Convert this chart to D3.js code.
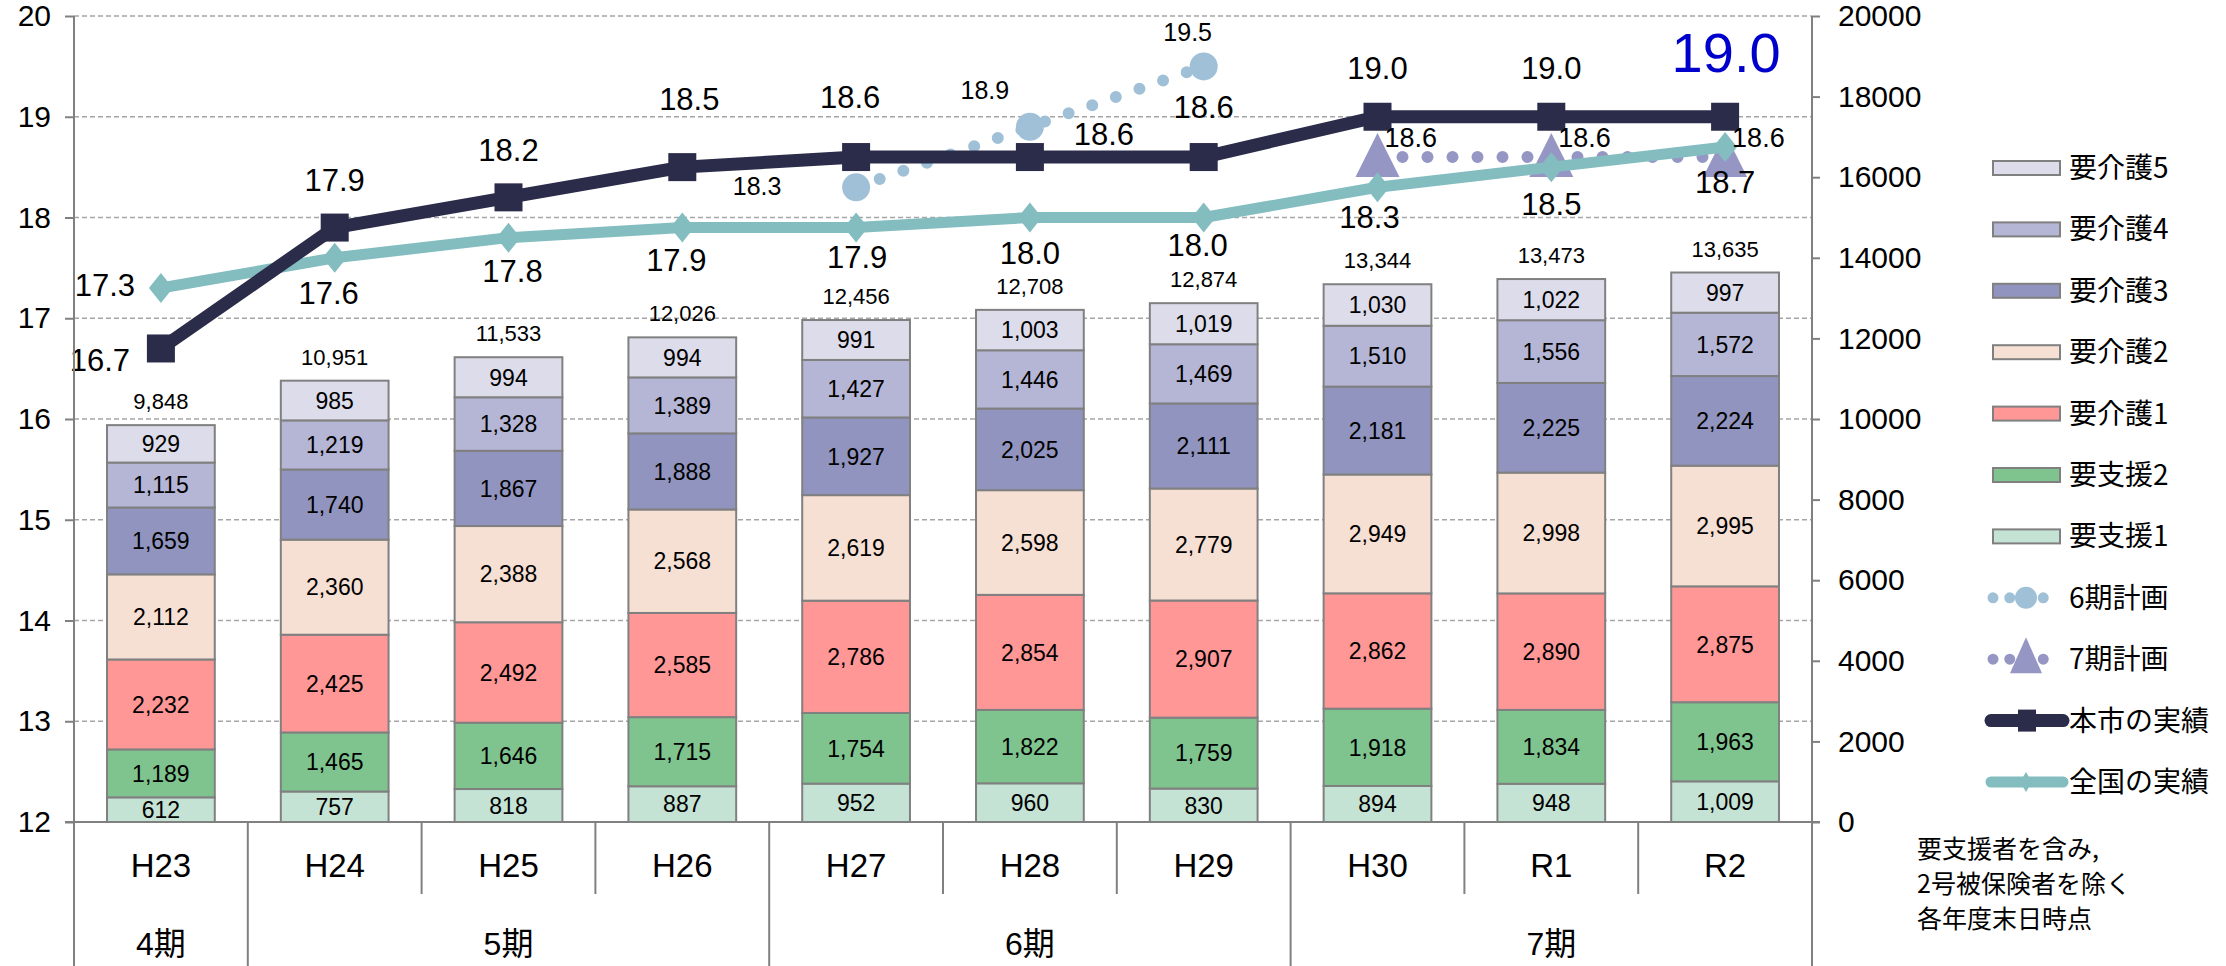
<!DOCTYPE html>
<html>
<head>
<meta charset="utf-8">
<script src="https://cdn.jsdelivr.net/npm/d3@7"></script>
<style>
  body { margin: 0; background: #fff; }
  text { font-family: "Liberation Sans", "Noto Sans CJK JP", sans-serif; fill: #000; }
  .jp { font-family: "Noto Sans CJK JP", sans-serif; }
</style>
</head>
<body>
<svg id="chart"></svg>
<script>
// データ
const years = ["H23", "H24", "H25", "H26", "H27", "H28", "H29", "H30", "R1", "R2"];
const periodNames = ["4期", "5期", "6期", "7期"];
const periodSpans = [1, 3, 3, 3];

const levelNames = ["要支援1", "要支援2", "要介護1", "要介護2", "要介護3", "要介護4", "要介護5"];
const shien1 = [612, 757, 818, 887, 952, 960, 830, 894, 948, 1009];
const shien2 = [1189, 1465, 1646, 1715, 1754, 1822, 1759, 1918, 1834, 1963];
const kaigo1 = [2232, 2425, 2492, 2585, 2786, 2854, 2907, 2862, 2890, 2875];
const kaigo2 = [2112, 2360, 2388, 2568, 2619, 2598, 2779, 2949, 2998, 2995];
const kaigo3 = [1659, 1740, 1867, 1888, 1927, 2025, 2111, 2181, 2225, 2224];
const kaigo4 = [1115, 1219, 1328, 1389, 1427, 1446, 1469, 1510, 1556, 1572];
const kaigo5 = [929, 985, 994, 994, 991, 1003, 1019, 1030, 1022, 997];
const levelValues = [shien1, shien2, kaigo1, kaigo2, kaigo3, kaigo4, kaigo5];

const cityRate = [16.7, 17.9, 18.2, 18.5, 18.6, 18.6, 18.6, 19.0, 19.0, 19.0];
const nationRate = [17.3, 17.6, 17.8, 17.9, 17.9, 18.0, 18.0, 18.3, 18.5, 18.7];
const plan6Years = ["H27", "H28", "H29"];
const plan6Rate = [18.3, 18.9, 19.5];
const plan7Years = ["H30", "R1", "R2"];
const plan7Rate = [18.6, 18.6, 18.6];

const leftTicks = [12, 13, 14, 15, 16, 17, 18, 19, 20];
const rightTicks = [0, 2000, 4000, 6000, 8000, 10000, 12000, 14000, 16000, 18000, 20000];
const lineNames = ["6期計画", "7期計画", "本市の実績", "全国の実績"];
const noteLines = ["要支援者を含み,", "2号被保険者を除く", "各年度末日時点"];

// ラベルの配置（点からのずれ）
const cityLabelOffset = [[-61, 23], [0, -37], [0, -36], [7, -57], [-6, -49], [74, -12], [0, -39], [0, -38], [0, -38], [1, -45]];
const nationLabelOffset = [[-56, 8], [-6, 46], [4, 44], [-6, 43], [1, 40], [0, 46], [-6, 38], [-8, 41], [0, 48], [0, 46]];
const plan6LabelOffset = [[-99, 8], [-45, -28], [-16, -25]];

const levelColors = ["#c4e3d4", "#7fc48f", "#ff9797", "#f6dfd3", "#9194be", "#b5b6d5", "#dcdcea"];
const color = d3.scaleOrdinal().domain(levelNames).range(levelColors);
const cityColor = "#2b2b4a", nationColor = "#83bdc0", plan6Color = "#9fc0d7", plan7Color = "#9696c4";

const width = 2226, height = 966;
const plot = { left: 74, right: 1812, top: 16, bottom: 822 };

const svg = d3.select("#chart").attr("width", width).attr("height", height);

const x = d3.scaleBand().domain(years).range([plot.left, plot.right]);
const xBar = d3.scaleBand().domain(years).range([plot.left, plot.right]).paddingInner(0.38).paddingOuter(0.19);
const yRate = d3.scaleLinear().domain([12, 20]).range([plot.bottom, plot.top]);
const yCount = d3.scaleLinear().domain([0, 20000]).range([plot.bottom, plot.top]);
const cx = yr => x(yr) + x.bandwidth() / 2;
const fmt = d3.format(",");

// グリッド線
svg.append("g")
  .selectAll("line")
  .data(leftTicks.slice(1))
  .join("line")
  .attr("x1", plot.left).attr("x2", plot.right)
  .attr("y1", d => yRate(d)).attr("y2", d => yRate(d))
  .attr("stroke", "#a6a6a6").attr("stroke-width", 1.5).attr("stroke-dasharray", "5,3");

// 積み上げ棒
const rows = years.map((yr, i) => {
  const r = { year: yr };
  levelNames.forEach((k, j) => (r[k] = levelValues[j][i]));
  return r;
});
const series = d3.stack().keys(levelNames)(rows);

const layers = svg.append("g").selectAll("g")
  .data(series)
  .join("g")
  .attr("fill", d => color(d.key));

layers.selectAll("rect")
  .data(d => d)
  .join("rect")
  .attr("x", d => xBar(d.data.year))
  .attr("width", xBar.bandwidth())
  .attr("y", d => yCount(d[1]))
  .attr("height", d => yCount(d[0]) - yCount(d[1]))
  .attr("stroke", "#808080")
  .attr("stroke-width", 2);

layers.selectAll("text")
  .data(d => d)
  .join("text")
  .attr("x", d => cx(d.data.year))
  .attr("y", d => (yCount(d[0]) + yCount(d[1])) / 2)
  .attr("dy", "0.36em")
  .attr("text-anchor", "middle")
  .attr("font-size", 23)
  .text(d => fmt(d[1] - d[0]));

// 合計
svg.append("g").selectAll("text")
  .data(rows)
  .join("text")
  .attr("x", d => cx(d.year))
  .attr("y", d => yCount(d3.sum(levelNames, k => d[k])) - 16)
  .attr("text-anchor", "middle")
  .attr("font-size", 22)
  .text(d => fmt(d3.sum(levelNames, k => d[k])));

// 折れ線
const line = d3.line().x(d => cx(d.year)).y(d => yRate(d.value));
const plan6 = plan6Years.map((yr, i) => ({ year: yr, value: plan6Rate[i] }));
const plan7 = plan7Years.map((yr, i) => ({ year: yr, value: plan7Rate[i] }));
const city = years.map((yr, i) => ({ year: yr, value: cityRate[i] }));
const nation = years.map((yr, i) => ({ year: yr, value: nationRate[i] }));

function dotted(g, data, col) {
  g.append("path")
    .attr("d", line(data))
    .attr("fill", "none")
    .attr("stroke", col)
    .attr("stroke-width", 12)
    .attr("stroke-linecap", "round")
    .attr("stroke-dasharray", "0,25");
}

const plan6G = svg.append("g");
dotted(plan6G, plan6, plan6Color);
plan6G.selectAll("circle").data(plan6).join("circle")
  .attr("cx", d => cx(d.year)).attr("cy", d => yRate(d.value)).attr("r", 14)
  .attr("fill", plan6Color);

const tri = (px, py, w, h) => `M${px},${py - h / 2}L${px + w / 2},${py + h / 2}L${px - w / 2},${py + h / 2}Z`;
const plan7G = svg.append("g");
dotted(plan7G, plan7, plan7Color);
plan7G.selectAll("path.mk").data(plan7).join("path")
  .attr("class", "mk")
  .attr("d", d => tri(cx(d.year), yRate(d.value) - 2, 44, 44))
  .attr("fill", plan7Color);

const diamond = (px, py, w, h) => `M${px},${py - h / 2}L${px + w / 2},${py}L${px},${py + h / 2}L${px - w / 2},${py}Z`;
const nationG = svg.append("g");
nationG.append("path")
  .attr("d", line(nation)).attr("fill", "none")
  .attr("stroke", nationColor).attr("stroke-width", 11).attr("stroke-linejoin", "round");
nationG.selectAll("path.mk").data(nation).join("path")
  .attr("class", "mk")
  .attr("d", d => diamond(cx(d.year), yRate(d.value), 24, 30))
  .attr("fill", nationColor);

const cityG = svg.append("g");
cityG.append("path")
  .attr("d", line(city)).attr("fill", "none")
  .attr("stroke", cityColor).attr("stroke-width", 13).attr("stroke-linejoin", "round");
cityG.selectAll("rect").data(city).join("rect")
  .attr("x", d => cx(d.year) - 14).attr("y", d => yRate(d.value) - 14)
  .attr("width", 28).attr("height", 28)
  .attr("fill", cityColor);

// 折れ線ラベル
svg.append("g").selectAll("text")
  .data(city)
  .join("text")
  .attr("x", (d, i) => cx(d.year) + cityLabelOffset[i][0])
  .attr("y", (d, i) => yRate(d.value) + cityLabelOffset[i][1])
  .attr("text-anchor", "middle")
  .attr("font-size", (d, i) => i === city.length - 1 ? 56 : 31)
  .style("fill", (d, i) => i === city.length - 1 ? "#0000cc" : "#000")
  .text(d => d.value.toFixed(1));

svg.append("g").selectAll("text")
  .data(nation)
  .join("text")
  .attr("x", (d, i) => cx(d.year) + nationLabelOffset[i][0])
  .attr("y", (d, i) => yRate(d.value) + nationLabelOffset[i][1])
  .attr("text-anchor", "middle")
  .attr("font-size", 31)
  .text(d => d.value.toFixed(1));

svg.append("g").selectAll("text")
  .data(plan6)
  .join("text")
  .attr("x", (d, i) => cx(d.year) + plan6LabelOffset[i][0])
  .attr("y", (d, i) => yRate(d.value) + plan6LabelOffset[i][1])
  .attr("text-anchor", "middle")
  .attr("font-size", 25)
  .text(d => d.value.toFixed(1));

svg.append("g").selectAll("text")
  .data(plan7)
  .join("text")
  .attr("x", d => cx(d.year) + 7)
  .attr("y", d => yRate(d.value) - 10)
  .attr("font-size", 27)
  .text(d => d.value.toFixed(1));

// 軸
const axisStyle = g => {
  g.select(".domain").remove();
  g.attr("font-family", null).attr("font-size", null);
  g.selectAll("line").attr("stroke", "#808080").attr("stroke-width", 2);
  g.selectAll("text").attr("font-size", 30);
};

svg.append("g")
  .attr("transform", `translate(${plot.left},0)`)
  .call(d3.axisLeft(yRate).tickValues(leftTicks).tickSize(9).tickPadding(14).tickFormat(d3.format("d")))
  .call(axisStyle);

svg.append("g")
  .attr("transform", `translate(${plot.right},0)`)
  .call(d3.axisRight(yCount).tickValues(rightTicks).tickSize(8).tickPadding(18).tickFormat(d3.format("d")))
  .call(axisStyle);

const frame = svg.append("g").attr("stroke", "#808080").attr("stroke-width", 2);
frame.append("line").attr("x1", plot.left).attr("x2", plot.left).attr("y1", plot.top).attr("y2", height);
frame.append("line").attr("x1", plot.right).attr("x2", plot.right).attr("y1", plot.top).attr("y2", height);
frame.append("line").attr("x1", plot.left - 9).attr("x2", plot.right + 8).attr("y1", plot.bottom).attr("y2", plot.bottom);

// 区分表（年度・期）
const periodStarts = periodSpans.map((s, i) => d3.sum(periodSpans.slice(0, i)));
frame.selectAll("line.div")
  .data(years.slice(1))
  .join("line")
  .attr("class", "div")
  .attr("x1", d => x(d)).attr("x2", d => x(d))
  .attr("y1", plot.bottom)
  .attr("y2", (d, i) => periodStarts.includes(i + 1) ? height : 894);

svg.append("g").selectAll("text")
  .data(years)
  .join("text")
  .attr("x", d => cx(d))
  .attr("y", 877)
  .attr("text-anchor", "middle")
  .attr("font-size", 33)
  .text(d => d);

svg.append("g").selectAll("text")
  .data(periodNames)
  .join("text")
  .attr("x", (d, i) => {
    const a = years[periodStarts[i]], b = years[periodStarts[i] + periodSpans[i] - 1];
    return (x(a) + x(b) + x.bandwidth()) / 2;
  })
  .attr("y", 955)
  .attr("text-anchor", "middle")
  .attr("font-size", 32)
  .text(d => d);

// 凡例
const legend = svg.append("g").attr("transform", "translate(1993,0)");
const legendY = i => 168 + i * 61.4;
const barLegend = levelNames.slice().reverse();

barLegend.forEach((k, i) => {
  legend.append("rect")
    .attr("x", 0).attr("y", legendY(i) - 7).attr("width", 67).attr("height", 14)
    .attr("fill", color(k)).attr("stroke", "#808080").attr("stroke-width", 2);
});

lineNames.forEach((k, j) => {
  const i = barLegend.length + j;
  const yy = legendY(i);
  const g = legend.append("g");
  if (j === 0 || j === 1) {
    const col = j === 0 ? plan6Color : plan7Color;
    g.append("line").attr("x1", 0).attr("x2", 67).attr("y1", yy).attr("y2", yy)
      .attr("stroke", col).attr("stroke-width", 11).attr("stroke-linecap", "round")
      .attr("stroke-dasharray", "0,16.75");
    if (j === 0) g.append("circle").attr("cx", 33).attr("cy", yy).attr("r", 11).attr("fill", col);
    else g.append("path").attr("d", tri(33, yy - 4, 32, 36)).attr("fill", col);
  } else {
    const col = j === 2 ? cityColor : nationColor;
    g.append("line").attr("x1", -2).attr("x2", 70).attr("y1", yy).attr("y2", yy)
      .attr("stroke", col).attr("stroke-width", j === 2 ? 13 : 11).attr("stroke-linecap", "round");
    if (j === 2) g.append("rect").attr("x", 25).attr("y", yy - 11).attr("width", 18).attr("height", 22).attr("fill", col);
    else g.append("path").attr("d", diamond(33, yy, 12, 20)).attr("fill", col);
  }
});

legend.selectAll("text")
  .data(barLegend.concat(lineNames))
  .join("text")
  .attr("class", "jp")
  .attr("x", 76)
  .attr("y", (d, i) => legendY(i))
  .attr("dy", "0.36em")
  .attr("font-size", 28)
  .text(d => d);

svg.append("g").selectAll("text")
  .data(noteLines)
  .join("text")
  .attr("class", "jp")
  .attr("x", 1917)
  .attr("y", (d, i) => 858 + i * 35)
  .attr("font-size", 25)
  .text(d => d);
</script>
</body>
</html>
